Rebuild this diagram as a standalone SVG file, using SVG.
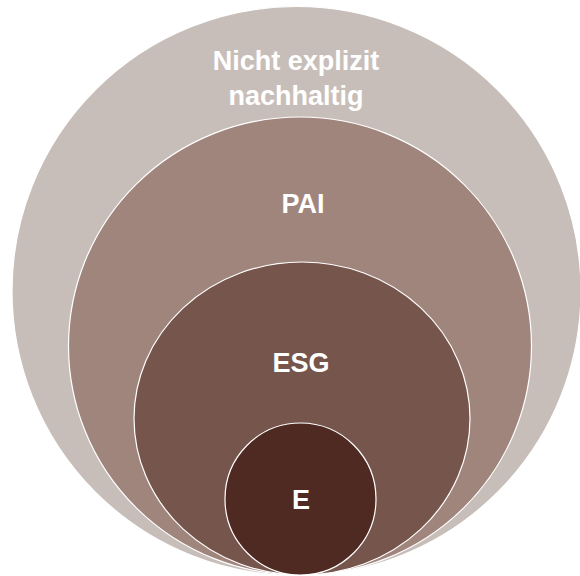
<svg xmlns="http://www.w3.org/2000/svg" width="580" height="576" viewBox="0 0 580 576">
<style>
.c{stroke:#ffffff;stroke-width:1.2}
.t{font-family:"Liberation Sans",Arial,sans-serif;font-weight:bold;font-size:27px;fill:#ffffff;text-anchor:middle}
</style>
<rect width="580" height="576" fill="#ffffff"/>
<g id="outer">
<circle class="c" cx="296.5" cy="291" r="284.5" fill="#C8BEB9"/>
<text class="t" x="296" y="70">Nicht explizit</text>
<text class="t" x="296" y="105">nachhaltig</text>
</g>
<g id="pai">
<ellipse class="c" cx="300" cy="346" rx="231.5" ry="229" fill="#A0857D"/>
<text class="t" x="303" y="213">PAI</text>
</g>
<g id="esg">
<ellipse class="c" cx="302" cy="418.5" rx="168" ry="156.5" fill="#76554C"/>
<text class="t" x="301" y="372">ESG</text>
</g>
<g id="e">
<ellipse class="c" cx="300.5" cy="499" rx="75.5" ry="76" fill="#4E2A22"/>
<text class="t" x="301" y="509">E</text>
</g>
<g id="connectors"/>
</svg>
